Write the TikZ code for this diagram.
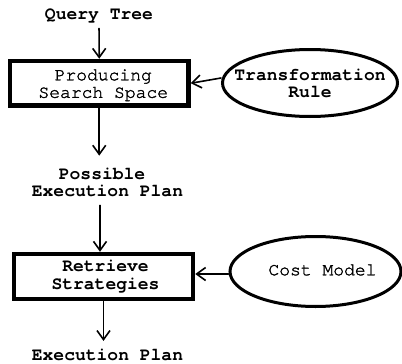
\documentclass[tikz,border=0pt]{standalone}
\usepackage{fontspec}
\newfontfamily\cour{TeX Gyre Cursor}
\newfontfamily\courmd[RawFeature={embolden=1.6}]{TeX Gyre Cursor}
\usetikzlibrary{arrows.meta,shapes.geometric}
\begin{document}
\begin{tikzpicture}[x=1pt,y=-1pt,
  txt/.style={font=\cour\bfseries\fontsize{18}{17.5}\selectfont, align=center, inner sep=0pt},
  txtmd/.style={font=\courmd\fontsize{18}{17.5}\selectfont, align=center, inner sep=0pt},
  proc/.style={draw, line width=4.5pt, inner sep=0pt},
  oval/.style={draw, ellipse, line width=3pt, inner sep=0pt},
  conn/.style={line width=1.6pt, line cap=round, -{Straight Barb[length=9pt,width=13pt,line width=1.6pt]}}]
\useasboundingbox (0,0) rectangle (402,364);

% plain text stages
\node[txt] (qt) at (99,16) {Query Tree};
\node[txt] (pep) at (107.5,182.5) {Possible\hphantom{x}\\Execution Plan};
\node[txt] (ep) at (107.5,355) {Execution Plan};

% processing boxes
\node[proc, minimum width=178.5pt, minimum height=44.5pt,
      label={[txtmd, xshift=4pt, yshift=-2pt]center:{Producing\\Search Space}}]
      (b1) at (99.25,83.25) {};
\node[proc, minimum width=179pt, minimum height=45pt,
      label={[txt, xshift=2pt]center:{Retrieve\\Strategies}}]
      (b2) at (103.5,276.5) {};

% inputs
\node[oval, minimum width=175pt, minimum height=67pt,
      label={[txt, yshift=-0.5pt]center:{Transformation\\Rule}}]
      (e1) at (310,83) {};
\node[oval, minimum width=171pt, minimum height=70pt,
      label={[txtmd, xshift=7pt, yshift=1.5pt]center:{Cost Model}}]
      (e2) at (315.5,271.5) {};

% connectors
\draw[conn, shorten <=5pt] (qt.south) -- (b1.north);
\draw[conn, shorten >=12pt] (b1.south) -- (b1.south |- pep.north);
\draw[conn, shorten <=8pt] ([xshift=-3.5pt]b2.north |- pep.south) -- ([xshift=-3.5pt]b2.north);
\draw[conn, shorten >=8pt] (b2.south) -- (b2.south |- ep.north);
\draw[conn] ([yshift=5pt]e1.west) -- (b1.east);
\draw[conn] ([yshift=-2.5pt]e2.west) -- ([yshift=2.5pt]b2.east);
\end{tikzpicture}
\end{document}
